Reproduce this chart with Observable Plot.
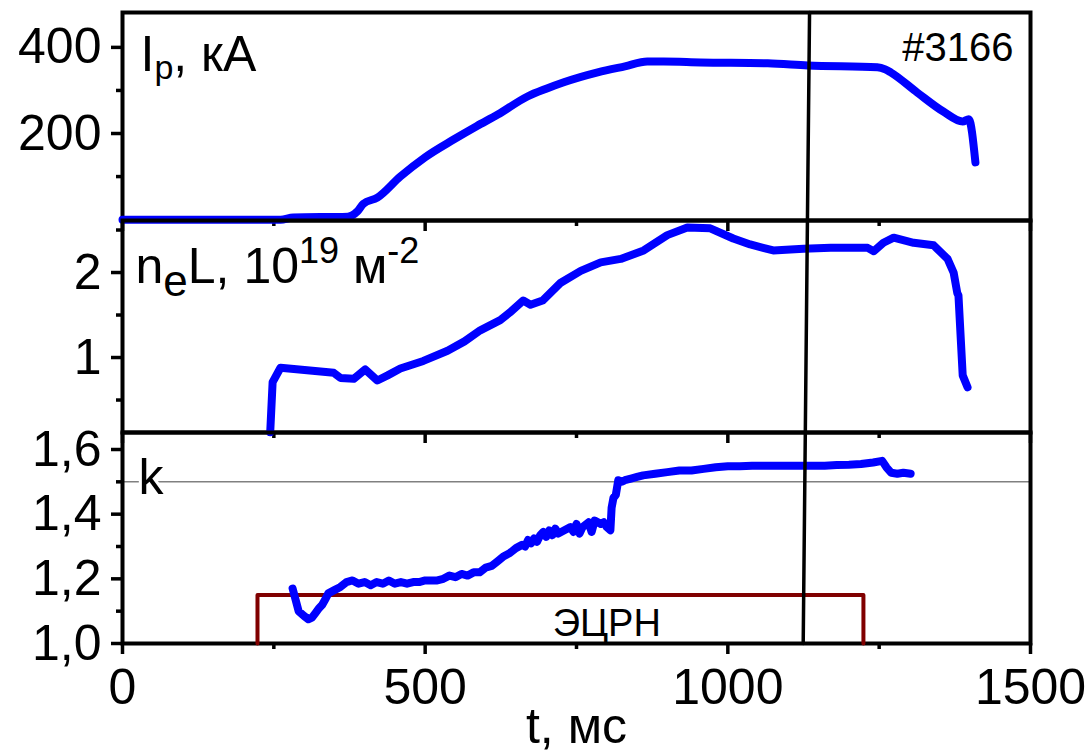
<!DOCTYPE html>
<html><head><meta charset="utf-8">
<script src="https://cdn.jsdelivr.net/npm/d3@7"></script>
<script src="https://cdn.jsdelivr.net/npm/@observablehq/plot@0.6"></script>
<style>
html,body{margin:0;padding:0;background:#fff;}
#chart{position:relative;width:1090px;height:753px;font-family:"Liberation Sans",Arial,sans-serif;}
#chart svg{position:absolute;left:0;}
</style></head><body><div id="chart"></div>
<script>
// ---- data ----
const xMajor = [0, 500, 1000, 1500];
const xMinor = [250, 750, 1250];

// Plasma current Ip, kA
const ipT = [0, 261, 282, 372, 388, 398, 421, 459, 500, 547, 585, 620, 669, 700, 729, 785, 830, 867, 894, 955, 1066, 1132, 1247, 1260, 1269, 1313, 1356, 1388, 1398, 1409];
const ipV = [0, 0, 5, 7, 19, 37, 51, 100, 145, 186, 217, 244, 286, 304, 319, 342, 356, 367, 367, 365, 363, 358, 354, 349, 342, 295, 251, 228, 233, 133];
const ipTicks = [200, 400];
const ipMinor = [100, 300];

// Line density neL, 1e19 m^-2
const neT = [244, 248, 261, 349, 360, 382, 401, 421, 438, 459, 497, 537, 565, 591, 624, 640, 662, 674, 694, 724, 757, 790, 823, 861, 900, 933, 971, 1009, 1037, 1075, 1125, 1170, 1231, 1241, 1257, 1274, 1307, 1340, 1363, 1373, 1379, 1381, 1388, 1396];
const neV = [0.12, 0.71, 0.88, 0.82, 0.76, 0.75, 0.86, 0.73, 0.79, 0.87, 0.96, 1.08, 1.19, 1.32, 1.44, 1.53, 1.67, 1.62, 1.67, 1.88, 2.02, 2.12, 2.16, 2.26, 2.44, 2.53, 2.52, 2.40, 2.33, 2.26, 2.28, 2.29, 2.29, 2.25, 2.35, 2.41, 2.35, 2.32, 2.16, 2.00, 1.76, 1.73, 0.79, 0.65];
const neTicks = [1, 2];
const neMinor = [0.5, 1.5, 2.5];

// Elongation k
const kT = [281, 291, 300, 307, 313, 319, 325, 330, 336, 340, 350, 360, 370, 380, 390, 400, 410, 420, 430, 440, 450, 460, 470, 480, 490, 500, 510, 520, 530, 540, 550, 560, 570, 580, 590, 600, 610, 620, 630, 640, 650, 660, 665, 670, 675, 680, 685, 690, 695, 700, 705, 710, 715, 720, 730, 740, 745, 750, 755, 760, 770, 775, 780, 790, 795, 800, 806, 808, 811, 815, 819, 825, 830, 840, 850, 860, 880, 900, 920, 940, 960, 980, 1000, 1020, 1040, 1060, 1080, 1100, 1120, 1140, 1160, 1180, 1200, 1220, 1240, 1255, 1262, 1270, 1280, 1290, 1302];
const kV = [1.17, 1.10, 1.085, 1.075, 1.08, 1.095, 1.11, 1.12, 1.14, 1.155, 1.165, 1.175, 1.19, 1.195, 1.185, 1.19, 1.18, 1.19, 1.185, 1.195, 1.185, 1.19, 1.185, 1.19, 1.19, 1.195, 1.195, 1.195, 1.2, 1.21, 1.205, 1.215, 1.21, 1.22, 1.22, 1.235, 1.24, 1.255, 1.27, 1.28, 1.295, 1.305, 1.30, 1.32, 1.31, 1.325, 1.315, 1.335, 1.345, 1.33, 1.35, 1.335, 1.355, 1.34, 1.35, 1.36, 1.345, 1.37, 1.34, 1.36, 1.375, 1.345, 1.38, 1.37, 1.375, 1.36, 1.35, 1.42, 1.45, 1.46, 1.505, 1.50, 1.505, 1.51, 1.515, 1.52, 1.525, 1.53, 1.535, 1.535, 1.54, 1.545, 1.548, 1.548, 1.55, 1.55, 1.55, 1.55, 1.55, 1.55, 1.55, 1.552, 1.553, 1.555, 1.56, 1.565, 1.545, 1.528, 1.525, 1.528, 1.525];
const kTicks = [1.0, 1.2, 1.4, 1.6];
const kMinor = [1.1, 1.3, 1.5];
const kRef = [1.5];

// ECRH pulse
const ecrhT = [223, 223, 1224, 1224];
const ecrhK = [1.0, 1.15, 1.15, 1.0];

// time cursor (t at top of panel 1, panel boundaries, bottom of panel 3)
const cursorT = [1135, 1131.5, 1128, 1124.5];

// labels
const ipLabel = "Ip, кА";
const neLabel = "neL, 1019 м-2";
const kLabel = "k";
const shotLabel = "#3166";
const ecrhLabel = "ЭЦРН";
const xLabel = "t, мс";
const ecrhLabelT = 800;

// ---- drawing ----
const FONT = "'Liberation Sans', Arial, sans-serif";
const BLUE = "#0000ff";
const toRows = (T, V) => T.map((t, i) => ({t, v: V[i]}));

function xAxes(withLabels) {
  return [
    Plot.axisX({ticks: xMajor, tickSize: 11, strokeWidth: 3.5, stroke: "black",
      tickPadding: 14, fontSize: 50, label: null,
      tickFormat: withLabels ? (d => String(d)) : (() => "")}),
    Plot.axisX({ticks: xMinor, tickSize: 6, strokeWidth: 3.5, stroke: "black", label: null, tickFormat: () => ""})
  ];
}
function yAxes(major, minor, fmt) {
  return [
    Plot.axisY({ticks: major, tickSize: 11, tickPadding: 10, strokeWidth: 3.5, stroke: "black", fontSize: 50, label: null, tickFormat: fmt}),
    Plot.axisY({ticks: minor, tickSize: 6, strokeWidth: 3.5, stroke: "black", label: null, tickFormat: () => ""})
  ];
}
function cursor(i, dom) {
  return Plot.line([{t: cursorT[i], v: dom[1]}, {t: cursorT[i + 1], v: dom[0]}],
    {x: "t", y: "v", stroke: "black", strokeWidth: 3.5});
}
function make(opts) {
  const svg = Plot.plot({
    width: 1090, height: opts.height,
    marginLeft: 122, marginRight: 60, marginTop: opts.marginTop, marginBottom: opts.marginBottom,
    x: {domain: [0, 1500], label: null},
    y: {domain: opts.domain, label: null},
    style: {fontFamily: FONT, background: "transparent", overflow: "visible", color: "black"},
    marks: opts.marks
  });
  svg.style.position = "absolute";
  svg.style.top = opts.top + "px";
  svg.style.left = "0px";
  svg.style.overflow = "visible";
  svg.style.background = "transparent";
  document.getElementById("chart").appendChild(svg);
  return svg;
}
function richText(svg, label, parts) {
  const t = d3.select(svg).selectAll("text").filter(function() { return this.textContent === label; });
  t.text(null);
  let prev = 0;
  for (const p of parts) {
    const s = p.shift || 0;
    const ts = t.append("tspan").text(p.text).attr("dy", s - prev);
    if (p.size) ts.attr("font-size", p.size);
    prev = s;
  }
}

// Panel 1: Ip
const dom1 = [-2, 481];
const svg1 = make({
  top: 0, height: 220, marginTop: 12, marginBottom: 0, domain: dom1,
  marks: [
    ...xAxes(false),
    ...yAxes(ipTicks, ipMinor, d => String(d)),
    Plot.frame({stroke: "black", strokeWidth: 4}),
    Plot.line(toRows(ipT, ipV), {x: "t", y: "v", stroke: BLUE, strokeWidth: 8, strokeLinejoin: "round", curve: "monotone-x"}),
    cursor(0, dom1),
    Plot.text([ipLabel], {text: d => d, frameAnchor: "top-left", textAnchor: "start", lineAnchor: "bottom", dx: 18, dy: 58, fontSize: 50, fill: "black"}),
    Plot.text([shotLabel], {text: d => d, frameAnchor: "top-right", textAnchor: "end", lineAnchor: "bottom", dx: -17, dy: 48, fontSize: 40, fill: "black"})
  ]
});
richText(svg1, ipLabel, [{text: "I"}, {text: "p", size: 34, shift: 8}, {text: ", кА", shift: 0}]);

// Panel 2: neL
const dom2 = [0.118, 2.612];
const svg2 = make({
  top: 220, height: 212, marginTop: 0, marginBottom: 0, domain: dom2,
  marks: [
    ...xAxes(false),
    ...yAxes(neTicks, neMinor, d => String(d)),
    Plot.frame({stroke: "black", strokeWidth: 4}),
    Plot.line(toRows(neT, neV), {x: "t", y: "v", stroke: BLUE, strokeWidth: 8, strokeLinejoin: "round"}),
    cursor(1, dom2),
    Plot.text([neLabel], {text: d => d, frameAnchor: "top-left", textAnchor: "start", lineAnchor: "bottom", dx: 13, dy: 62, fontSize: 50, fill: "black"})
  ]
});
richText(svg2, neLabel, [
  {text: "n"}, {text: "e", size: 44, shift: 13}, {text: "L, 10", shift: 0},
  {text: "19", size: 36, shift: -20}, {text: " м", shift: 0}, {text: "-2", size: 36, shift: -20}
]);

// Panel 3: k
const dom3 = [1.0, 1.6526];
const svg3 = make({
  top: 432, height: 321, marginTop: 0, marginBottom: 110, domain: dom3,
  marks: [
    ...xAxes(true),
    ...yAxes(kTicks, kMinor, d => d.toFixed(1).replace(".", ",")),
    Plot.ruleY(kRef, {stroke: "#808080", strokeWidth: 1.5}),
    Plot.frame({stroke: "black", strokeWidth: 4}),
    Plot.line(toRows(ecrhT, ecrhK), {x: "t", y: "v", stroke: "#800000", strokeWidth: 4}),
    Plot.line(toRows(kT, kV), {x: "t", y: "v", stroke: BLUE, strokeWidth: 8, strokeLinejoin: "round", strokeLinecap: "round"}),
    cursor(2, dom3),
    Plot.text([kLabel], {text: d => d, frameAnchor: "top-left", textAnchor: "start", lineAnchor: "bottom", dx: 16, dy: 61, fontSize: 50, fill: "black", stroke: "white", strokeWidth: 6, paintOrder: "stroke"}),
    Plot.text([ecrhLabel], {text: d => d, x: () => ecrhLabelT, y: () => dom3[0], textAnchor: "middle", lineAnchor: "bottom", dy: -8, fontSize: 38, fill: "black"}),
    Plot.text([xLabel], {text: d => d, frameAnchor: "bottom", textAnchor: "middle", lineAnchor: "bottom", dy: 99, fontSize: 50, fill: "black"})
  ]
});
</script></body></html>
